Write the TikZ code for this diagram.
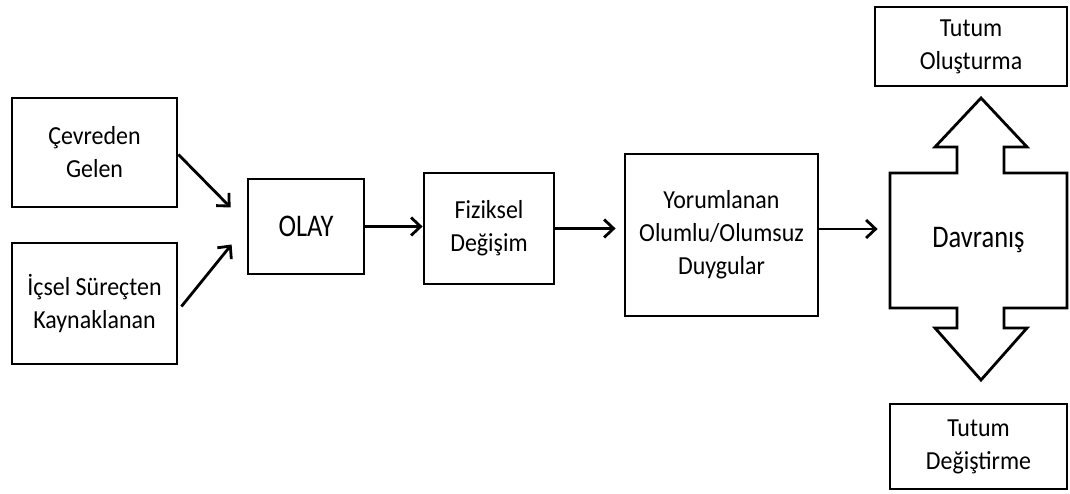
\documentclass[tikz,border=0pt]{standalone}
\usepackage{fontspec}
\setmainfont{Carlito}[FakeStretch=0.92]
\newfontfamily\buyuk{Carlito}[FakeStretch=0.84]
\usetikzlibrary{arrows.meta}
\tikzset{
  kutu/.style = {rectangle, draw=black, line width=2.8pt, align=center,
    inner sep=0pt, text centered, font=\fontsize{26}{33}\selectfont},% duz kutu
  kutu_b/.style = {kutu, font=\buyuk\fontsize{31.5}{33}\selectfont},% buyuk yazili kutu
  ok/.style = {-{Straight Barb[length=9.5pt,width=18pt]}, line width=2.8pt}% ok
}

\begin{document}
\begin{tikzpicture}[x=1pt,y=-1pt]
\useasboundingbox (0,0) rectangle (1070,494);
\node [kutu, minimum width=165pt, minimum height=109pt] (cevre) at (94.5,152.5) {Çevreden\\Gelen};
\node [kutu, minimum width=165pt, minimum height=121pt] (icsel) at (94.5,303.5) {İçsel Süreçten\\Kaynaklanan};
\node [kutu_b, minimum width=116pt, minimum height=95pt] (olay) at (306,226.5) {OLAY};
\node [kutu, minimum width=130pt, minimum height=111pt] (fiz) at (489,228.5) {Fiziksel\\Değişim};
\node [kutu, minimum width=193pt, minimum height=162pt] (yorum) at (721.5,235) {Yorumlanan\\Olumlu/Olumsuz\\Duygular};
\node [kutu_b, draw=none, minimum width=177pt, minimum height=135pt] (davr) at (978.5,240.5) {Davranış};
\node [kutu, minimum width=192pt, minimum height=79pt] (olus) at (971,46.5) {Tutum\\Oluşturma};
\node [kutu, minimum width=177pt, minimum height=85pt] (degis) at (978.5,446.5) {Tutum\\Değiştirme};
% cift yonlu ok
\draw [line width=2.8pt, line join=miter] (890,173) -- (957,173) -- (957,147) -- (935,147)
  -- (981,98) -- (1027,147) -- (1004,147) -- (1004,173) -- (1067,173) -- (1067,308)
  -- (1004,308) -- (1004,328) -- (1027,328) -- (981,380) -- (935,328) -- (957,328)
  -- (957,308) -- (890,308) -- cycle;
% oklar
\draw [ok] ([yshift=-2pt]cevre.east) -- ([xshift=-16pt,yshift=19pt]olay.west);
\draw [ok] ([xshift=3pt,yshift=-3pt]icsel.east) -- ([xshift=-15pt,yshift=-18pt]olay.west);
\draw [ok] (olay.east) -- (olay.east -| fiz.west);
\draw [ok] (fiz.east) -- ([xshift=-8pt]fiz.east -| yorum.west);
\draw [ok] ([yshift=6pt]yorum.east) -- ([xshift=-11pt,yshift=6pt]yorum.east -| davr.west);
\end{tikzpicture}
\end{document}
